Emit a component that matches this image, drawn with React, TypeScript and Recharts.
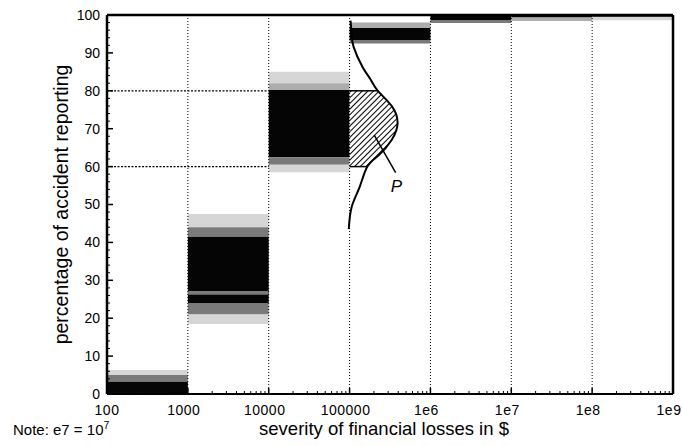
import React from 'react';
import {
  ComposedChart,
  XAxis,
  YAxis,
  ReferenceArea,
  ReferenceLine,
  ReferenceDot,
  Line,
  Area,
} from 'recharts';

// ---- axes (x is log10 of the dollar amount) ----
const xTickExps = [2, 3, 4, 5, 6, 7, 8, 9];
const xTickLabels = ['100', '1000', '10000', '100000', '1e6', '1e7', '1e8', '1e9'];
const xGridExps = [3, 4, 5, 6, 7, 8];
const logMinor = [0.301, 0.477, 0.602, 0.699, 0.778, 0.845, 0.903, 0.954];
const yTicks = [0, 10, 20, 30, 40, 50, 60, 70, 80, 90, 100];
const yMinorTicks = [2, 4, 6, 8, 12, 14, 16, 18, 22, 24, 26, 28, 32, 34, 36, 38, 42, 44, 46, 48, 52, 54, 56, 58, 62, 64, 66, 68, 72, 74, 76, 78, 82, 84, 86, 88, 92, 94, 96, 98];
const yGridLevels = [60, 80];

// ---- shaded reporting bands per decade: [yFrom, yTo, tone] ----
const bandFrom = [2, 3, 4, 5, 6, 7, 8];
const bandTo = [3, 4, 5, 6, 7, 8, 9];
const band100 = [[5, 6.3, 4], [3.2, 5, 2], [0, 3.2, 0]];
const band1000 = [[44, 47.5, 4], [41.5, 44, 2], [24, 41.5, 0], [26.2, 27.2, 2], [21, 24, 2], [18.5, 21, 4]];
const band1e4 = [[82, 85, 4], [80.2, 82, 3], [62.5, 80.2, 0], [60.5, 62.5, 2], [58.5, 60.5, 4]];
const band1e5 = [[96.6, 98, 3], [93.4, 96.6, 0], [92.5, 93.4, 2]];
const band1e6 = [[97.9, 98.7, 2], [98.7, 100, 0]];
const band1e7 = [[98.4, 99.4, 3], [99.4, 100, 0]];
const band1e8 = [[98.6, 99.5, 4], [99.5, 100, 1]];
const bands = [band100, band1000, band1e4, band1e5, band1e6, band1e7, band1e8];
const tones = ['#050505', '#3a3a3a', '#7a7a7a', '#adadad', '#d6d6d6'];

// ---- distribution curve P ----
const curveY = [98.5, 95, 91.6, 86.3, 83, 80, 76, 71.5, 67, 63, 60, 54.6, 49.3, 43.5];
const curveX = [5.012, 5.025, 5.05, 5.16, 5.26, 5.35, 5.52, 5.594, 5.52, 5.36, 5.22, 5.124, 5.025, 4.99];
const hatchY = [80, 76, 71.5, 67, 63, 60];
const hatchX = [5.35, 5.52, 5.594, 5.52, 5.36, 5.22];
const pointerX = [5.305, 5.57];
const pointerY = [68.3, 58.4];
const pLabel = { x: 5.58, y: 54.9, text: 'P' };

const curveData = curveY.map((y, i) => ({ y, x: curveX[i] }));
const hatchData = hatchY.map((y, i) => ({ y, x: hatchX[i] }));

const FONT = '"Liberation Sans", Arial, Helvetica, sans-serif';

const xMinorTicks = bandFrom.flatMap((d) => logMinor.map((m) => d + m));
const xAllTicks = [...xTickExps, ...xMinorTicks];
const yAllTicks = [...yTicks, ...yMinorTicks];

const xLabelOf = (v: number) => {
  const i = xTickExps.indexOf(v);
  return i >= 0 ? xTickLabels[i] : null;
};

const BottomTick = (p: any) => {
  const v = p.payload.value;
  const label = xLabelOf(v);
  const major = label !== null;
  return (
    <g>
      <line x1={p.x} x2={p.x} y1={p.y} y2={p.y - (major ? 6 : 3)} stroke="#000" strokeWidth={major ? 1.5 : 1} />
      {major && (
        <text x={p.x - (v > 2 ? 4 : 0)} y={p.y + 11} dy="0.71em" textAnchor="middle" fontSize={14} fontFamily={FONT} fill="#000" letterSpacing={0.5}>
          {label}
        </text>
      )}
    </g>
  );
};
const TopTick = (p: any) => {
  const major = xTickExps.indexOf(p.payload.value) >= 0;
  return <line x1={p.x} x2={p.x} y1={p.y} y2={p.y + (major ? 6 : 3)} stroke="#000" strokeWidth={major ? 1.5 : 1} />;
};
const LeftTick = (p: any) => {
  const v = p.payload.value;
  const major = yTicks.indexOf(v) >= 0;
  return (
    <g>
      <line x1={p.x} x2={p.x + (major ? 6 : 3)} y1={p.y} y2={p.y} stroke="#000" strokeWidth={major ? 1.5 : 1} />
      {major && (
        <text x={p.x - 7} y={p.y} dy="0.355em" textAnchor="end" fontSize={14} fontFamily={FONT} fill="#000">
          {v}
        </text>
      )}
    </g>
  );
};
const RightTick = (p: any) => {
  const major = yTicks.indexOf(p.payload.value) >= 0;
  return <line x1={p.x} x2={p.x - (major ? 6 : 3)} y1={p.y} y2={p.y} stroke="#000" strokeWidth={major ? 1.5 : 1} />;
};

export default function App() {
  return (
    <div style={{ position: 'absolute', left: 0, top: 0, width: 682, height: 446, background: '#fff' }}>
      <ComposedChart
        width={682}
        height={446}
        layout="vertical"
        margin={{ top: 0, right: 0, bottom: 0, left: 0 }}
      >
        <defs>
          <pattern id="hatch" width="4" height="4" patternUnits="userSpaceOnUse" patternTransform="rotate(45)">
            <rect x="0" y="0" width="4" height="4" fill="#fff" />
            <line x1="0" y1="0" x2="0" y2="4" stroke="#000" strokeWidth="2" />
          </pattern>
        </defs>

        <XAxis
          type="number"
          domain={[2, 9]}
          ticks={xAllTicks}
          interval={0}
          height={52}
          tickLine={false}
          tickSize={0}
          tickMargin={0}
          axisLine={{ stroke: '#000', strokeWidth: 2 }}
          tick={BottomTick}
          label={{
            content: (p: any) => {
              const vb = p.viewBox || { x: 107, y: 394, width: 566 };
              return (
                <g fontFamily={FONT} fill="#000">
                  <text x={vb.x + vb.width / 2 - 6} y={vb.y + 41} textAnchor="middle" fontSize={18.5}>
                    severity of financial losses in $
                  </text>
                  <text x={13} y={vb.y + 41} fontSize={15}>
                    Note: e7 = 10<tspan dy={-6} fontSize={10.5}>7</tspan>
                  </text>
                </g>
              );
            },
          }}
        />
        <XAxis
          xAxisId="top"
          orientation="top"
          type="number"
          domain={[2, 9]}
          ticks={xAllTicks}
          interval={0}
          height={15}
          tickLine={false}
          tickSize={0}
          tickMargin={0}
          axisLine={{ stroke: '#000', strokeWidth: 2.5 }}
          tick={TopTick}
        />

        <YAxis
          type="number"
          dataKey="y"
          reversed
          domain={[0, 100]}
          ticks={yAllTicks}
          interval={0}
          width={107}
          tickLine={false}
          tickSize={0}
          tickMargin={0}
          axisLine={{ stroke: '#000', strokeWidth: 2.5 }}
          tick={LeftTick}
          label={{
            content: (p: any) => {
              const vb = p.viewBox || { x: 0, y: 15, width: 107, height: 379 };
              const cx = vb.x + 68;
              const cy = vb.y + vb.height / 2;
              return (
                <text x={cx} y={cy} transform={`rotate(-90 ${cx} ${cy})`} textAnchor="middle" fontSize={19.5} fontFamily={FONT} fill="#000">
                  percentage of accident reporting
                </text>
              );
            },
          }}
        />
        <YAxis
          yAxisId="right"
          orientation="right"
          type="number"
          reversed
          domain={[0, 100]}
          ticks={yAllTicks}
          interval={0}
          width={9}
          tickLine={false}
          tickSize={0}
          tickMargin={0}
          axisLine={{ stroke: '#000', strokeWidth: 2.5 }}
          tick={RightTick}
        />

        {xGridExps.map((e) => (
          <ReferenceLine key={`gx${e}`} x={e} stroke="#000" strokeWidth={1} strokeDasharray="1 2" />
        ))}

        {bands.map((layers, bi) =>
          layers.map((l, li) => (
            <ReferenceArea
              key={`b${bi}-${li}`}
              x1={bandFrom[bi]}
              x2={bandTo[bi]}
              y1={l[0]}
              y2={l[1]}
              fill={tones[l[2]]}
              fillOpacity={1}
              stroke="none"
              ifOverflow="visible"
            />
          ))
        )}

        {yGridLevels.map((v) => (
          <ReferenceLine
            key={`gy${v}`}
            segment={[{ x: 2, y: v }, { x: 4, y: v }]}
            stroke="#000"
            strokeWidth={1.3}
            strokeDasharray="2 1.5"
          />
        ))}

        <Area
          data={hatchData}
          dataKey="x"
          type="natural"
          baseValue={5}
          fill="url(#hatch)"
          fillOpacity={1}
          stroke="none"
          isAnimationActive={false}
        />
        <ReferenceLine segment={[{ x: 5, y: hatchY[0] }, { x: hatchX[0], y: hatchY[0] }]} stroke="#000" strokeWidth={1.5} />
        <ReferenceLine segment={[{ x: 5, y: hatchY[hatchY.length - 1] }, { x: hatchX[hatchX.length - 1], y: hatchY[hatchY.length - 1] }]} stroke="#000" strokeWidth={1.5} />
        <Line
          data={curveData}
          dataKey="x"
          type="natural"
          stroke="#000"
          strokeWidth={2}
          dot={false}
          activeDot={false}
          isAnimationActive={false}
        />
        <ReferenceLine
          segment={[{ x: pointerX[0], y: pointerY[0] }, { x: pointerX[1], y: pointerY[1] }]}
          stroke="#000"
          strokeWidth={1.5}
        />
        <ReferenceDot
          x={pLabel.x}
          y={pLabel.y}
          r={0}
          fill="none"
          stroke="none"
          label={{ value: pLabel.text, position: 'center', fontSize: 17, fontStyle: 'italic', fill: '#000', fontFamily: FONT }}
        />
      </ComposedChart>
    </div>
  );
}
